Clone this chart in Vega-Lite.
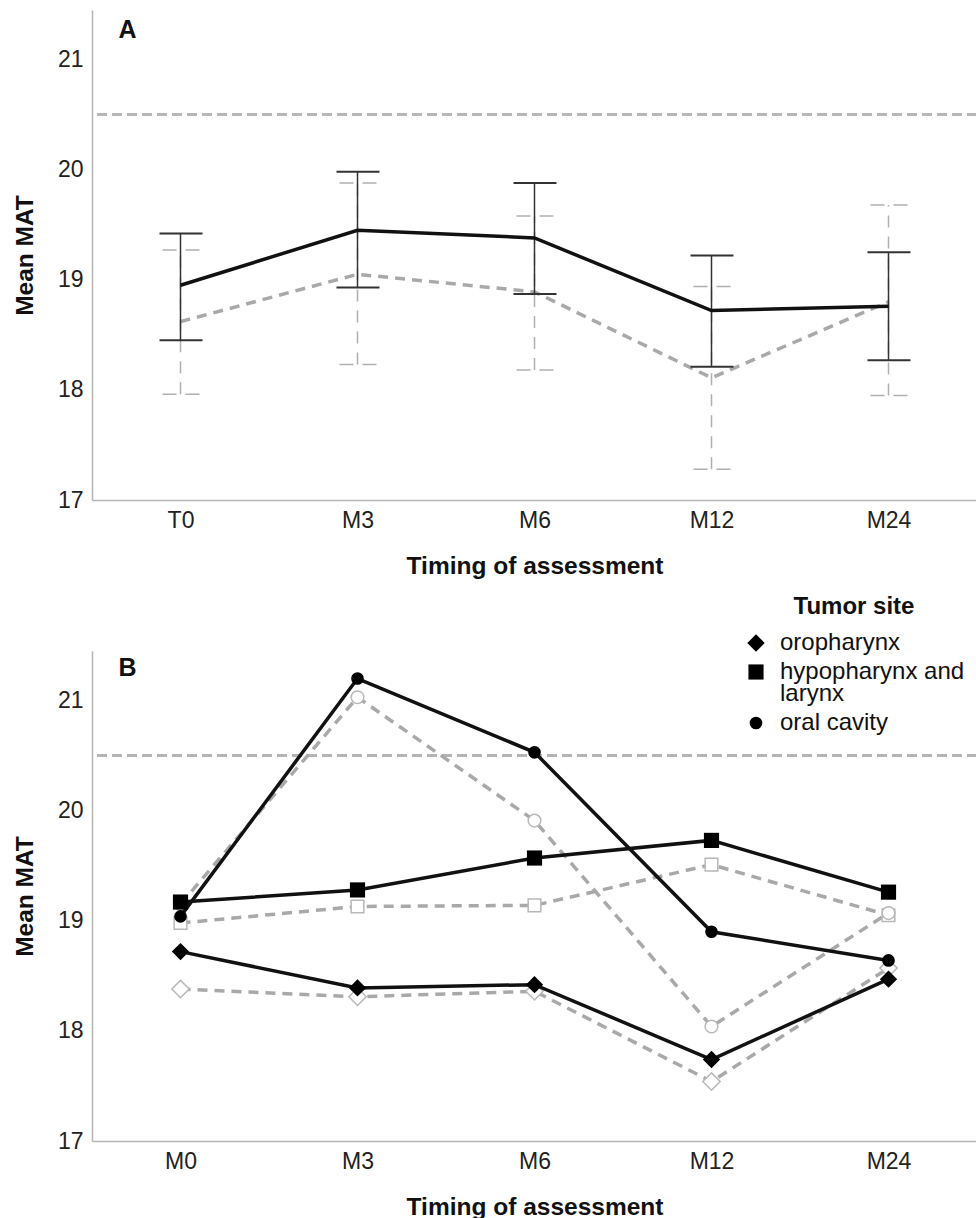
{
  "$schema": "https://vega.github.io/schema/vega-lite/v6.json",
  "padding": {"left": 12, "top": 10, "right": 1, "bottom": 0},
  "background": "white",
  "config": {
    "font": "Liberation Sans",
    "view": {"stroke": null},
    "style": {"guide-label": {"lineBreak": "\n", "lineHeight": 22}},
    "axis": {
      "domainColor": "#b5b5b5",
      "domainWidth": 1.5,
      "ticks": false,
      "grid": false,
      "labelFontSize": 23,
      "labelColor": "#222222",
      "labelFont": "Liberation Sans",
      "titleFont": "Liberation Sans",
      "titleFontSize": 24.5,
      "titleFontWeight": "bold",
      "titleColor": "#111111",
      "labelPadding": 9
    },
    "axisX": {"labelAngle": 0, "titlePadding": 22},
    "axisY": {"titlePadding": 20}
  },
  "datasets": {
    "a": [
      {"time": "T0", "cohort": "1", "mean": 18.95, "lo": 18.45, "hi": 19.42},
      {"time": "M3", "cohort": "1", "mean": 19.45, "lo": 18.93, "hi": 19.98},
      {"time": "M6", "cohort": "1", "mean": 19.38, "lo": 18.87, "hi": 19.88},
      {"time": "M12", "cohort": "1", "mean": 18.72, "lo": 18.21, "hi": 19.22},
      {"time": "M24", "cohort": "1", "mean": 18.76, "lo": 18.27, "hi": 19.25},
      {"time": "T0", "cohort": "2", "mean": 18.62, "lo": 17.96, "hi": 19.27},
      {"time": "M3", "cohort": "2", "mean": 19.05, "lo": 18.23, "hi": 19.88},
      {"time": "M6", "cohort": "2", "mean": 18.89, "lo": 18.18, "hi": 19.58},
      {"time": "M12", "cohort": "2", "mean": 18.11, "lo": 17.28, "hi": 18.94},
      {"time": "M24", "cohort": "2", "mean": 18.80, "lo": 17.95, "hi": 19.68}
    ],
    "b": [
      {"time": "M0", "site": "oropharynx", "cohort": "1", "mean": 18.72},
      {"time": "M3", "site": "oropharynx", "cohort": "1", "mean": 18.39},
      {"time": "M6", "site": "oropharynx", "cohort": "1", "mean": 18.42},
      {"time": "M12", "site": "oropharynx", "cohort": "1", "mean": 17.74},
      {"time": "M24", "site": "oropharynx", "cohort": "1", "mean": 18.47},
      {"time": "M0", "site": "hypopharynx and larynx", "cohort": "1", "mean": 19.17},
      {"time": "M3", "site": "hypopharynx and larynx", "cohort": "1", "mean": 19.28},
      {"time": "M6", "site": "hypopharynx and larynx", "cohort": "1", "mean": 19.57},
      {"time": "M12", "site": "hypopharynx and larynx", "cohort": "1", "mean": 19.73},
      {"time": "M24", "site": "hypopharynx and larynx", "cohort": "1", "mean": 19.26},
      {"time": "M0", "site": "oral cavity", "cohort": "1", "mean": 19.04},
      {"time": "M3", "site": "oral cavity", "cohort": "1", "mean": 21.20},
      {"time": "M6", "site": "oral cavity", "cohort": "1", "mean": 20.53},
      {"time": "M12", "site": "oral cavity", "cohort": "1", "mean": 18.90},
      {"time": "M24", "site": "oral cavity", "cohort": "1", "mean": 18.64},
      {"time": "M0", "site": "oropharynx", "cohort": "2", "mean": 18.38},
      {"time": "M3", "site": "oropharynx", "cohort": "2", "mean": 18.31},
      {"time": "M6", "site": "oropharynx", "cohort": "2", "mean": 18.36},
      {"time": "M12", "site": "oropharynx", "cohort": "2", "mean": 17.54},
      {"time": "M24", "site": "oropharynx", "cohort": "2", "mean": 18.57},
      {"time": "M0", "site": "hypopharynx and larynx", "cohort": "2", "mean": 18.98},
      {"time": "M3", "site": "hypopharynx and larynx", "cohort": "2", "mean": 19.13},
      {"time": "M6", "site": "hypopharynx and larynx", "cohort": "2", "mean": 19.14},
      {"time": "M12", "site": "hypopharynx and larynx", "cohort": "2", "mean": 19.51},
      {"time": "M24", "site": "hypopharynx and larynx", "cohort": "2", "mean": 19.05},
      {"time": "M0", "site": "oral cavity", "cohort": "2", "mean": 19.15},
      {"time": "M3", "site": "oral cavity", "cohort": "2", "mean": 21.03},
      {"time": "M6", "site": "oral cavity", "cohort": "2", "mean": 19.91},
      {"time": "M12", "site": "oral cavity", "cohort": "2", "mean": 18.04},
      {"time": "M24", "site": "oral cavity", "cohort": "2", "mean": 19.07}
    ]
  },
  "spacing": 17,
  "resolve": {"scale": {"shape": "independent", "size": "independent"}, "legend": {"shape": "independent", "size": "independent"}},
  "vconcat": [
    {
      "width": 885,
      "height": 490,
      "data": {"name": "a"},
      "encoding": {
        "x": {"field": "time", "type": "nominal", "scale": {"type": "point", "domain": ["T0", "M3", "M6", "M12", "M24"], "padding": 0.5}, "title": "Timing of assessment"},
        "y": {"type": "quantitative", "scale": {"domain": [17, 21.45], "nice": false, "zero": false}, "axis": {"values": [17, 18, 19, 20, 21]}, "title": "Mean MAT"}
      },
      "layer": [
        {"mark": {"type": "rule", "color": "#b5b5b5", "strokeWidth": 1.5, "strokeDash": [10, 5]}, "encoding": {"x": null, "y": {"datum": 20.5, "type": "quantitative"}}},
        {"transform": [{"filter": "datum.cohort == '2'"}], "mark": {"type": "rule", "color": "#b0b0b0", "strokeWidth": 1.5, "strokeDash": [12, 9]}, "encoding": {"y": {"field": "lo", "type": "quantitative"}, "y2": {"field": "hi"}}},
        {"transform": [{"filter": "datum.cohort == '2'"}], "mark": {"type": "rule", "color": "#b0b0b0", "strokeWidth": 1.5, "strokeDash": [14, 9], "xOffset": -18, "x2Offset": 19}, "encoding": {"x2": {"field": "time"}, "y": {"field": "hi", "type": "quantitative"}}},
        {"transform": [{"filter": "datum.cohort == '2'"}], "mark": {"type": "rule", "color": "#b0b0b0", "strokeWidth": 1.5, "strokeDash": [14, 9], "xOffset": -18, "x2Offset": 19}, "encoding": {"x2": {"field": "time"}, "y": {"field": "lo", "type": "quantitative"}}},
        {"transform": [{"filter": "datum.cohort == '2'"}], "mark": {"type": "line", "color": "#a9a9a9", "strokeWidth": 3.5, "strokeDash": [10, 7]}, "encoding": {"y": {"field": "mean", "type": "quantitative"}, "order": {"value": null}}},
        {"transform": [{"filter": "datum.cohort == '1'"}], "mark": {"type": "rule", "color": "#333333", "strokeWidth": 1.5}, "encoding": {"y": {"field": "lo", "type": "quantitative"}, "y2": {"field": "hi"}}},
        {"transform": [{"filter": "datum.cohort == '1'"}], "mark": {"type": "rule", "color": "#333333", "strokeWidth": 2, "xOffset": -21, "x2Offset": 22}, "encoding": {"x2": {"field": "time"}, "y": {"field": "hi", "type": "quantitative"}}},
        {"transform": [{"filter": "datum.cohort == '1'"}], "mark": {"type": "rule", "color": "#333333", "strokeWidth": 2, "xOffset": -21, "x2Offset": 22}, "encoding": {"x2": {"field": "time"}, "y": {"field": "lo", "type": "quantitative"}}},
        {"transform": [{"filter": "datum.cohort == '1'"}], "mark": {"type": "line", "color": "#111111", "strokeWidth": 3.5}, "encoding": {"y": {"field": "mean", "type": "quantitative"}, "order": {"value": null}}},
        {"data": {"values": [{"panel": "A", "time": "T0", "pos": 21.27}]}, "mark": {"type": "text", "fontSize": 25, "fontWeight": "bold", "color": "#111111", "dx": -53}, "encoding": {"text": {"field": "panel"}, "y": {"field": "pos", "type": "quantitative"}}}
      ]
    },
    {
      "width": 885,
      "height": 490,
      "data": {"name": "b"},
      "encoding": {
        "x": {"field": "time", "type": "nominal", "scale": {"type": "point", "domain": ["M0", "M3", "M6", "M12", "M24"], "padding": 0.5}, "title": "Timing of assessment"},
        "y": {"type": "quantitative", "scale": {"domain": [17, 21.45], "nice": false, "zero": false}, "axis": {"values": [17, 18, 19, 20, 21]}, "title": "Mean MAT"}
      },
      "layer": [
        {"mark": {"type": "rule", "color": "#b5b5b5", "strokeWidth": 1.5, "strokeDash": [10, 5]}, "encoding": {"x": null, "y": {"datum": 20.5, "type": "quantitative"}}},
        {"transform": [{"filter": "datum.cohort == '2'"}], "mark": {"type": "line", "color": "#a9a9a9", "strokeWidth": 3.5, "strokeDash": [10, 7]}, "encoding": {"y": {"field": "mean", "type": "quantitative"}, "detail": {"field": "site"}, "order": {"value": null}}},
        {"transform": [{"filter": "datum.cohort == '2' && datum.site == 'oropharynx'"}], "mark": {"type": "point", "shape": "diamond", "size": 300, "filled": false, "fill": "white", "fillOpacity": 1, "stroke": "#b8b8b8", "strokeWidth": 1.5, "opacity": 1}, "encoding": {"y": {"field": "mean", "type": "quantitative"}}},
        {"transform": [{"filter": "datum.cohort == '2' && datum.site == 'hypopharynx and larynx'"}], "mark": {"type": "point", "shape": "square", "size": 160, "filled": false, "fill": "white", "fillOpacity": 1, "stroke": "#b8b8b8", "strokeWidth": 1.5, "opacity": 1}, "encoding": {"y": {"field": "mean", "type": "quantitative"}}},
        {"transform": [{"filter": "datum.cohort == '2' && datum.site == 'oral cavity'"}], "mark": {"type": "point", "shape": "circle", "size": 160, "filled": false, "fill": "white", "fillOpacity": 1, "stroke": "#b8b8b8", "strokeWidth": 1.5, "opacity": 1}, "encoding": {"y": {"field": "mean", "type": "quantitative"}}},
        {"transform": [{"filter": "datum.cohort == '1'"}], "mark": {"type": "line", "color": "#111111", "strokeWidth": 3.5}, "encoding": {"y": {"field": "mean", "type": "quantitative"}, "detail": {"field": "site"}, "order": {"value": null}}},
        {"transform": [{"filter": "datum.cohort == '1'"}], "mark": {"type": "point", "filled": true, "color": "#000000", "opacity": 1}, "encoding": {"y": {"field": "mean", "type": "quantitative"}, "shape": {"field": "site", "type": "nominal", "scale": {"domain": ["oropharynx", "hypopharynx and larynx", "oral cavity"], "range": ["diamond", "square", "circle"]}, "legend": {"title": "Tumor site", "orient": "none", "legendX": 652, "legendY": -56, "titleAnchor": "middle", "titleFontSize": 24, "titleFontWeight": "bold", "titleColor": "#111111", "titlePadding": 12, "labelFontSize": 24, "labelColor": "#111111", "labelOffset": 12, "labelLimit": 300, "rowPadding": 5, "labelExpr": "replace(datum.label, 'and ', 'and\\n')"}}, "size": {"field": "site", "type": "nominal", "scale": {"domain": ["oropharynx", "hypopharynx and larynx", "oral cavity"], "range": [300, 160, 160]}}}},
        {"data": {"values": [{"panel": "B", "time": "M0", "pos": 21.3}]}, "mark": {"type": "text", "fontSize": 25, "fontWeight": "bold", "color": "#111111", "dx": -53}, "encoding": {"text": {"field": "panel"}, "y": {"field": "pos", "type": "quantitative"}}}
      ]
    }
  ]
}
